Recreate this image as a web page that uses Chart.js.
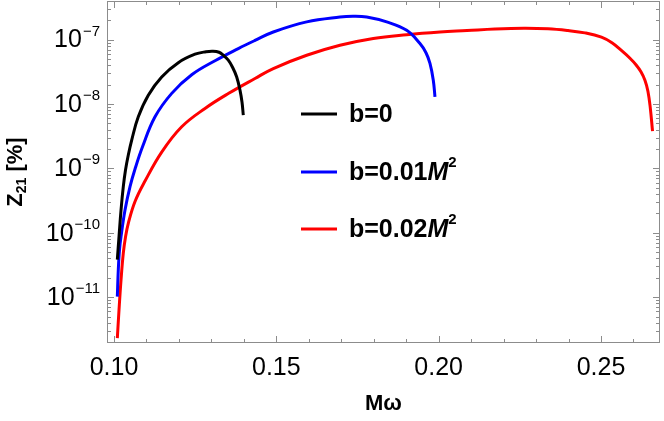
<!DOCTYPE html>
<html>
<head>
<meta charset="utf-8">
<script src="https://cdn.jsdelivr.net/npm/chart.js@4/dist/chart.umd.min.js"></script>
<style>
html, body { margin: 0; padding: 0; background: #fff; }
</style>
</head>
<body>
<canvas id="chart" width="664" height="421"></canvas>
<script>
// M*omega values and Z21 [%], one pair of arrays per curve
var xB0 = [0.10102, 0.10154, 0.10216, 0.10286, 0.10354, 0.10440, 0.10545, 0.10748, 0.11056, 0.11469,
           0.11980, 0.12495, 0.12833, 0.13049, 0.13234, 0.13366, 0.13520, 0.13650, 0.13779, 0.13880,
           0.13942, 0.13982];
var zB0 = [3.81e-11, 8.71e-11, 2.25e-10, 5.19e-10, 9.42e-10, 1.61e-9, 2.75e-9, 6.31e-9, 1.37e-8, 2.63e-8,
           4.38e-8, 5.92e-8, 6.47e-8, 6.59e-8, 6.35e-8, 5.71e-8, 4.78e-8, 3.72e-8, 2.63e-8, 1.64e-8,
           1.07e-8, 6.70e-9];

var xB1 = [0.10102, 0.10132, 0.10169, 0.10216, 0.10339, 0.10493, 0.10647, 0.10878, 0.11263, 0.11777,
           0.12393, 0.13111, 0.13828, 0.14342, 0.14906, 0.15935, 0.16960, 0.17361, 0.17783, 0.18399,
           0.19015, 0.19424, 0.19609, 0.19732, 0.19834, 0.19886];
var zB1 = [1.02e-11, 2.65e-11, 5.41e-11, 8.71e-11, 2.25e-10, 5.19e-10, 9.75e-10, 2.16e-9, 6.31e-9, 1.46e-8,
           2.84e-8, 4.69e-8, 7.25e-8, 9.69e-8, 1.31e-7, 1.88e-7, 2.24e-7, 2.30e-7, 2.24e-7, 1.88e-7,
           1.39e-7, 8.67e-8, 6.24e-8, 4.25e-8, 2.34e-8, 1.29e-8];

var xB2 = [0.10102, 0.10154, 0.10216, 0.10286, 0.10354, 0.10440, 0.10647, 0.10955, 0.11469, 0.12085,
           0.12803, 0.13520, 0.14342, 0.14906, 0.15935, 0.16960, 0.17986, 0.19015, 0.20040, 0.20872,
           0.21734, 0.22627, 0.23366, 0.23982, 0.24505, 0.25014, 0.25337, 0.25636, 0.25892, 0.26076,
           0.26230, 0.26353, 0.26445, 0.26517, 0.26587];
var zB2 = [2.31e-12, 6.35e-12, 1.85e-11, 4.81e-11, 8.61e-11, 1.40e-10, 3.05e-10, 6.35e-10, 1.79e-9, 4.42e-9,
           8.52e-9, 1.45e-8, 2.49e-8, 3.55e-8, 5.71e-8, 8.16e-8, 1.04e-7, 1.19e-7, 1.31e-7, 1.38e-7,
           1.46e-7, 1.50e-7, 1.47e-7, 1.38e-7, 1.27e-7, 1.09e-7, 8.92e-8, 6.72e-8, 5.13e-8, 4.07e-8,
           3.17e-8, 2.34e-8, 1.58e-8, 8.77e-9, 3.78e-9];

var xTicks = [0.10, 0.15, 0.20, 0.25];
var xTickLabels = ["0.10", "0.15", "0.20", "0.25"];
var yExponents = [-7, -8, -9, -10, -11];
var legendLabels = ["b=0", "b=0.01", "b=0.02"];
var legendUnit = [false, true, true];
var colors = ["#000000", "#0000ff", "#ff0000"];

function pairs(xs, ys) {
    var out = [];
    for (var i = 0; i < xs.length; i++) {
        out.push({x: xs[i], y: ys[i]});
    }
    return out;
}

var FONT = "'Liberation Sans', Arial, sans-serif";
var FRAME = "#8c8c8c";

// frame with inside ticks, tick labels, axis titles and the legend
var decorations = {
    id: "decorations",
    afterDatasetsDraw: function(chart) {
        var ctx = chart.ctx;
        var a = chart.chartArea;
        var xs = chart.scales.x;
        var ys = chart.scales.y;
        ctx.save();

        // frame
        ctx.strokeStyle = FRAME;
        ctx.lineWidth = 1;
        ctx.strokeRect(a.left + 0.5, a.top + 0.5, a.right - a.left - 1, a.bottom - a.top - 1);

        // x ticks every 0.01, longer every 0.05
        ctx.beginPath();
        for (var i = 10; i <= 26; i++) {
            var px = Math.round(xs.getPixelForValue(i / 100)) + 0.5;
            var len = (i % 5 === 0) ? 7 : 4;
            ctx.moveTo(px, a.bottom);
            ctx.lineTo(px, a.bottom - len);
            ctx.moveTo(px, a.top);
            ctx.lineTo(px, a.top + len);
        }
        // y ticks, log minor ticks
        for (var e = -12; e <= -7; e++) {
            for (var m = 1; m <= 9; m++) {
                var v = m * Math.pow(10, e);
                if (v < ys.min || v > ys.max) continue;
                var py = Math.round(ys.getPixelForValue(v)) + 0.5;
                var l = (m === 1) ? 7 : 4;
                ctx.moveTo(a.left, py);
                ctx.lineTo(a.left + l, py);
                ctx.moveTo(a.right, py);
                ctx.lineTo(a.right - l, py);
            }
        }
        ctx.stroke();

        // x tick labels
        ctx.fillStyle = "#000";
        ctx.font = "25px " + FONT;
        ctx.textAlign = "center";
        ctx.textBaseline = "middle";
        for (var j = 0; j < xTicks.length; j++) {
            ctx.fillText(xTickLabels[j], xs.getPixelForValue(xTicks[j]), a.bottom + 25);
        }

        // y tick labels 10^n
        for (var k = 0; k < yExponents.length; k++) {
            var ty = ys.getPixelForValue(Math.pow(10, yExponents[k]));
            var expText = "\u2212" + Math.abs(yExponents[k]);
            ctx.font = "15px " + FONT;
            var expW = ctx.measureText(expText).width;
            var expLeft = a.left - 7 - expW;
            ctx.textAlign = "left";
            ctx.fillText(expText, expLeft, ty - 8);
            ctx.font = "25px " + FONT;
            ctx.textAlign = "right";
            ctx.fillText("10", expLeft - 1, ty + 1);
        }

        // x axis title
        ctx.font = "bold 22px " + FONT;
        ctx.textAlign = "center";
        ctx.fillText("M\u03c9", (a.left + a.right) / 2, 404);

        // y axis title, rotated
        ctx.save();
        ctx.translate(16, (a.top + a.bottom) / 2);
        ctx.rotate(-Math.PI / 2);
        ctx.textAlign = "left";
        ctx.font = "bold 22px " + FONT;
        var w1 = ctx.measureText("Z").width;
        ctx.font = "bold 14px " + FONT;
        var w2 = ctx.measureText("21").width;
        ctx.font = "bold 22px " + FONT;
        var w3 = ctx.measureText(" [%]").width;
        var start = -(w1 + w2 + w3) / 2;
        ctx.fillText("Z", start, 0);
        ctx.font = "bold 14px " + FONT;
        ctx.fillText("21", start + w1, 6);
        ctx.font = "bold 22px " + FONT;
        ctx.fillText(" [%]", start + w1 + w2, 0);
        ctx.restore();

        // legend
        var ly = [114, 172, 229];
        for (var n = 0; n < legendLabels.length; n++) {
            ctx.strokeStyle = colors[n];
            ctx.lineWidth = 3;
            ctx.beginPath();
            ctx.moveTo(301, ly[n]);
            ctx.lineTo(337, ly[n]);
            ctx.stroke();
            ctx.textAlign = "left";
            ctx.font = "bold 25px " + FONT;
            ctx.fillText(legendLabels[n], 349, ly[n] + 1);
            if (legendUnit[n]) {
                var tx = 349 + ctx.measureText(legendLabels[n]).width;
                ctx.font = "italic bold 25px " + FONT;
                ctx.fillText("M", tx, ly[n] + 1);
                tx += ctx.measureText("M").width;
                ctx.font = "bold 15px " + FONT;
                ctx.fillText("2", tx, ly[n] - 9);
            }
        }
        ctx.restore();
    }
};

var chart = new Chart(document.getElementById("chart"), {
    type: "line",
    data: {
        datasets: [
            {label: legendLabels[0], data: pairs(xB0, zB0), borderColor: colors[0]},
            {label: legendLabels[1], data: pairs(xB1, zB1), borderColor: colors[1]},
            {label: legendLabels[2], data: pairs(xB2, zB2), borderColor: colors[2]}
        ]
    },
    options: {
        responsive: false,
        animation: false,
        devicePixelRatio: 1,
        layout: {padding: {left: 107, right: 4, top: 1, bottom: 78}},
        elements: {
            line: {borderWidth: 3, tension: 0.4, borderJoinStyle: "round", fill: false},
            point: {radius: 0}
        },
        plugins: {
            legend: {display: false},
            tooltip: {enabled: false}
        },
        scales: {
            x: {type: "linear", min: 0.09784, max: 0.26817, display: false},
            y: {type: "logarithmic", min: 1.94e-12, max: 3.97e-7, display: false}
        }
    },
    plugins: [decorations]
});
</script>
</body>
</html>
